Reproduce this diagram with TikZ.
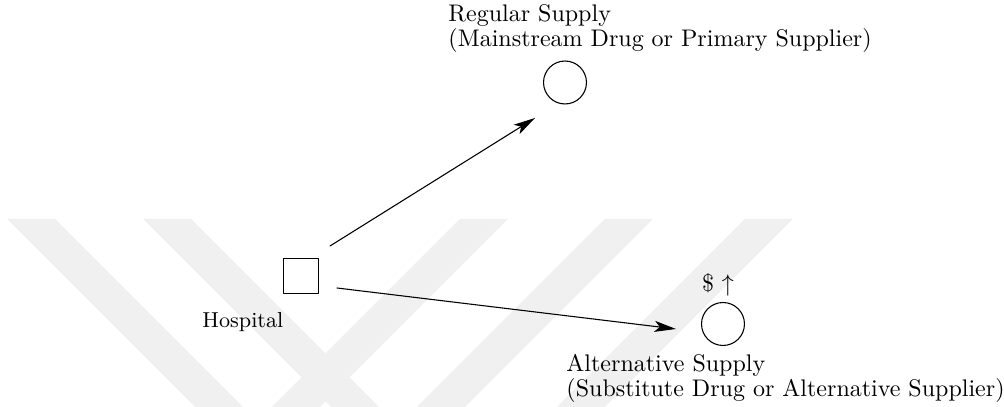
\documentclass[tikz,border=0pt]{standalone}
\usetikzlibrary{arrows.meta,calc}
\tikzset{
  supplier/.style={draw,circle,line width=0.45pt,inner sep=0pt,minimum size=17.9pt},
  buyer/.style={draw,rectangle,line width=0.45pt,inner sep=0pt,minimum size=14.6pt},
  flow/.style={line width=0.45pt,-{Stealth[length=9pt,width=4.6pt,inset=2.2pt]}},
  caption/.style={align=left,inner sep=0pt,font=\fontsize{10}{8.5}\selectfont},
  wmark/.style={fill=black!6,draw=none}
}
\begin{document}
\begin{tikzpicture}[x=0.4167pt,y=-0.4167pt,line cap=round,line join=round]
  \useasboundingbox (0,0) rectangle (1004,407);
  \begin{scope}
    \clip (0,219) rectangle (1004,407);
    \foreach \a in {7,143} \fill[wmark] (\a,219) -- ++(48,0) -- ++(250,250) -- ++(-48,0) -- cycle;
    \foreach \b in {460,605,745} \fill[wmark] (\b,219) -- ++(48,0) -- ++(-250,250) -- ++(-48,0) -- cycle;
  \end{scope}
  \node[buyer] (hosp) at (301,276) {};
  \node[supplier] (reg) at (565,82.5) {};
  \node[supplier] (alt) at (723,324) {};
  \node[caption,font=\fontsize{9}{10}\selectfont,anchor=base west] (hlab) at (202,328) {Hospital};
  \node[caption,anchor=base west] (rlab) at (448,46.7) {Regular Supply\\(Mainstream Drug or Primary Supplier)};
  \node[caption,anchor=base west] (alab) at (566,396.7) {Alternative Supply\\(Substitute Drug or Alternative Supplier)};
  \node[caption,anchor=base] (cost) at (718,292) {\$ $\uparrow$};
  \draw[flow] ($(hosp)+(29,-30)$) -- ($(reg)+(-30,35.5)$);
  \draw[flow] ($(hosp)+(36,12)$) -- ($(alt)+(-47,5)$);
\end{tikzpicture}
\end{document}
